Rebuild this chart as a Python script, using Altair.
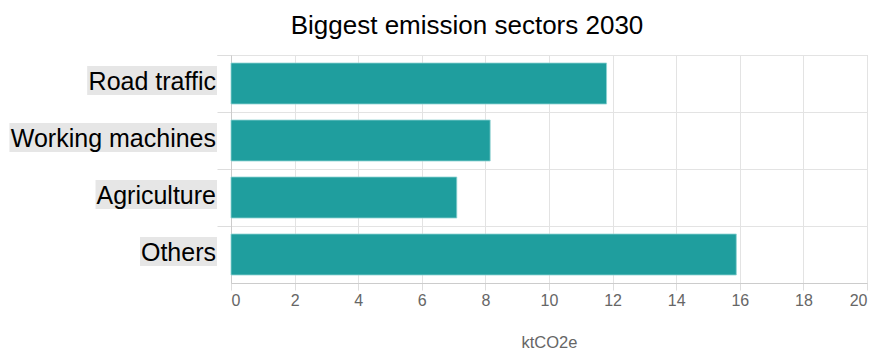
import altair as alt
import pandas as pd

sectors = ["Road traffic", "Working machines", "Agriculture", "Others"]
emissions = [11.81, 8.15, 7.10, 15.89]
x_ticks = [0, 2, 4, 6, 8, 10, 12, 14, 16, 18, 20]

# Arial / Liberation Sans advance widths (per 1000 em) for label background sizing
ARIAL_W = {" ": 278, "R": 722, "o": 556, "a": 556, "d": 556, "t": 278, "r": 333,
           "f": 278, "i": 222, "c": 500, "W": 944, "k": 500, "n": 556, "g": 556,
           "m": 833, "h": 556, "e": 556, "s": 500, "A": 667, "u": 556, "l": 222,
           "O": 778}
LABEL_SIZE = 25


def text_width(s, size):
    return sum(ARIAL_W.get(ch, 556) for ch in s) * size / 1000.0


df = pd.DataFrame({"sector": sectors, "value": emissions})
df["bg_right"] = -14
df["bg_left"] = [-14 - (text_width(s, LABEL_SIZE) + 2) for s in sectors]

FONT = "Liberation Sans"
y_enc = alt.Y("sector:N", sort=sectors,
              scale=alt.Scale(paddingInner=0, paddingOuter=0),
              axis=alt.Axis(labels=False, title=None, ticks=True, tickSize=14,
                            tickColor="#dddddd", grid=True, gridColor="#e3e3e3",
                            bandPosition=0, tickExtra=True, domain=True,
                            domainColor="#cccccc"))

bg = alt.Chart(df).mark_bar(height=29, yOffset=-3, color="#e6e6e6").encode(
    x=alt.X("bg_left:Q", scale=None, axis=None),
    x2=alt.X2("bg_right:Q"),
    y=y_enc,
)

bars = alt.Chart(df).mark_bar(height=41, color="#1f9e9e", stroke="#8fd3d3",
                              strokeWidth=0.8).encode(
    x=alt.X("value:Q",
            scale=alt.Scale(domain=[0, 20], nice=False),
            axis=alt.Axis(values=x_ticks, title="ktCO2e", labelColor="#666666",
                          labelFontSize=16, labelFont=FONT, tickSize=7,
                          tickColor="#dddddd", labelPadding=2, grid=True,
                          gridColor="#e3e3e3", domainColor="#cccccc",
                          titleColor="#666666", titleFontSize=16.5,
                          titleFont=FONT, titleFontWeight="normal",
                          titleY=51, titleBaseline="top")),
    y=y_enc,
)

labels = alt.Chart(df).mark_text(align="right", baseline="middle", dy=-1.5,
                                 fontSize=LABEL_SIZE, font=FONT,
                                 color="#000000").encode(
    x=alt.value(-15),
    y=y_enc,
    text="sector:N",
)

chart = alt.layer(bg, bars, labels).properties(
    width=636, height=228,
    title=alt.TitleParams("Biggest emission sectors 2030", font=FONT,
                          fontSize=26, fontWeight="normal", color="#000000",
                          anchor="middle", dx=-82, offset=16),
    autosize=alt.AutoSizeParams(type="none"),
    padding={"left": 223, "top": 47, "right": 1, "bottom": 70},
).configure_view(stroke="#cccccc")

chart.save("out.html", embed_options={"renderer": "svg", "actions": False})
